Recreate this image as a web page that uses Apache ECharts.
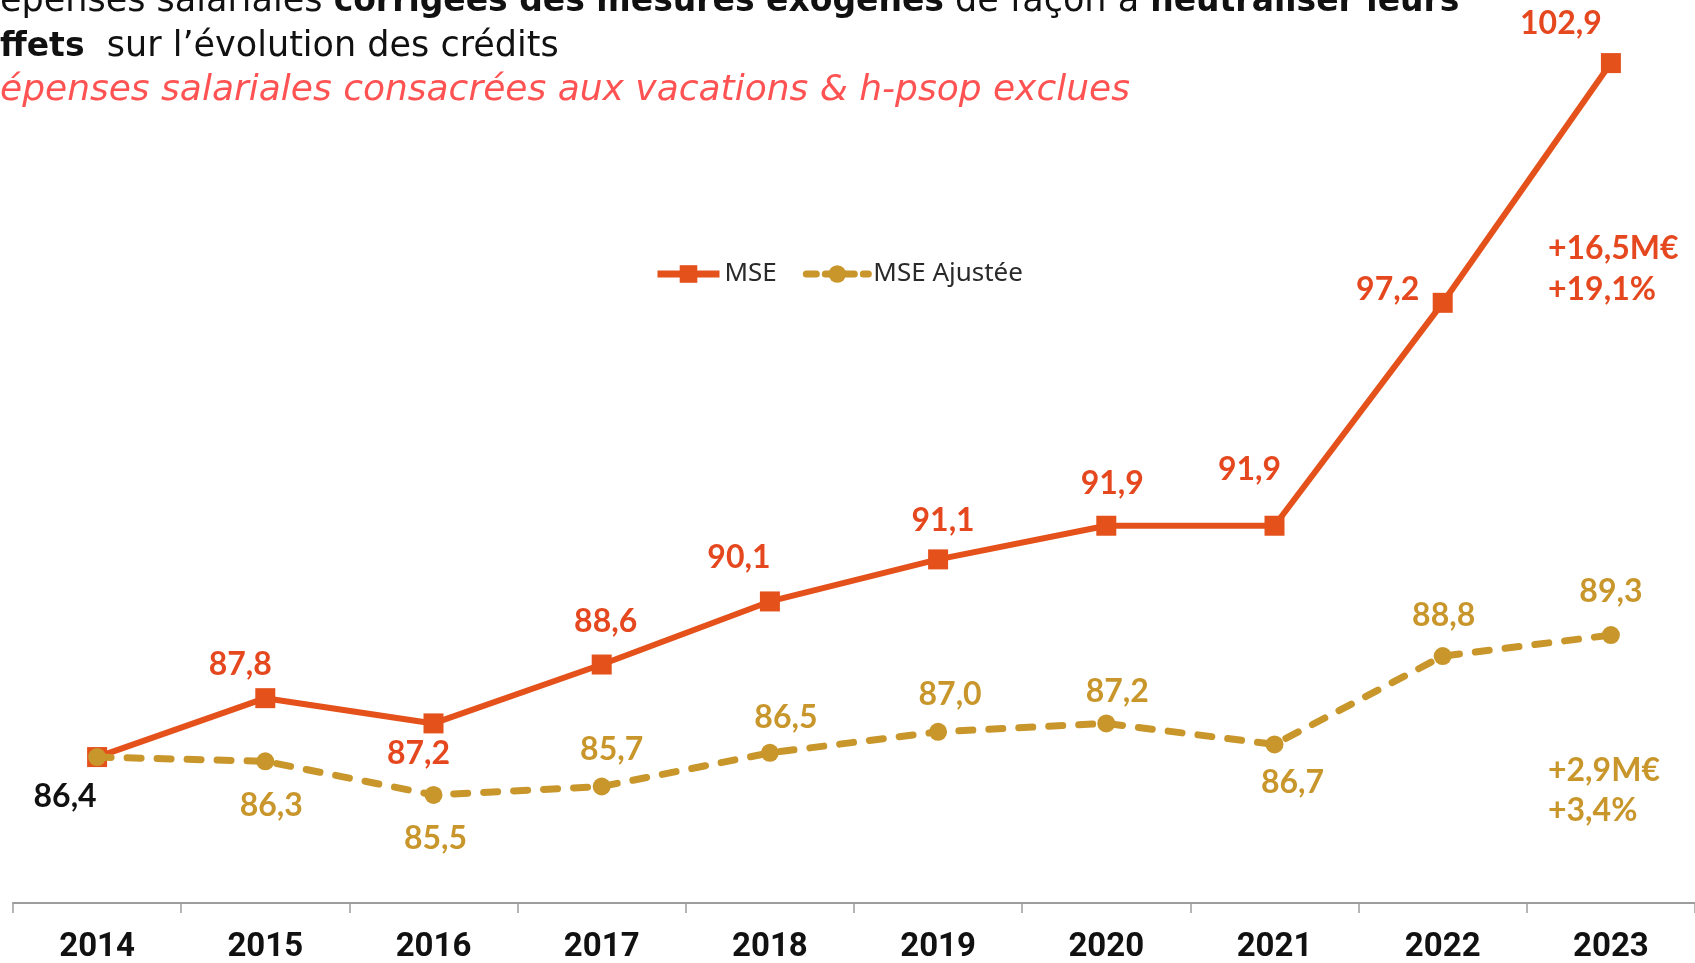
<!DOCTYPE html>
<html>
<head>
<meta charset="utf-8">
<script src="https://cdn.jsdelivr.net/npm/echarts@6/dist/echarts.min.js"></script>
<style>
  html, body { margin: 0; padding: 0; background: #ffffff; }
  #chart { width: 1695px; height: 963px; }
</style>
</head>
<body>
<div id="chart"></div>
<script>
// ---- Data ----
const years = ['2014', '2015', '2016', '2017', '2018', '2019', '2020', '2021', '2022', '2023'];
const mse = [86.4, 87.8, 87.2, 88.6, 90.1, 91.1, 91.9, 91.9, 97.2, 102.9];
const mseAjustee = [86.4, 86.3, 85.5, 85.7, 86.5, 87.0, 87.2, 86.7, 88.8, 89.3];
const seriesNames = ['MSE', 'MSE Ajustée'];
const mseDelta = ['+16,5M€', '+19,1%'];
const adjDelta = ['+2,9M€', '+3,4%'];
const titleLine1 = ['épenses salariales ', 'corrigées des mesures exogènes', ' de façon à ', 'neutraliser leurs'];
const titleLine2 = ['ffets', '  sur l’évolution des crédits'];
const titleLine3 = 'épenses salariales consacrées aux vacations & h-psop exclues';

// ---- Styles ----
const ORANGE = '#E4511B';
const ORANGE_TXT = '#E5481E';
const GOLD = '#C8962B';
const LABEL_FONT = 'Lato';
const mseLabelOffsets = [[-32, 40], [-25, -33], [-15, 30], [4, -43], [-31, -44], [5, -39], [6, -42], [-25, -56], [-55, -13], [-50, -39]];
const adjLabelOffsets = [null, [6, 44], [2, 44], [10, -37], [16, -35], [12, -37], [11, -32], [18, 38], [1, -40], [0, -43]];

const fmt = v => v.toFixed(1).replace('.', ',');

const mseData = mse.map((v, i) => ({
  value: v,
  label: {
    show: true,
    position: 'inside',
    offset: mseLabelOffsets[i],
    color: i === 0 ? '#111111' : ORANGE_TXT
  }
}));
const adjData = mseAjustee.map((v, i) => ({
  value: v,
  label: adjLabelOffsets[i]
    ? { show: true, position: 'inside', offset: adjLabelOffsets[i], color: GOLD }
    : { show: false }
}));

const chart = echarts.init(document.getElementById('chart'), null, { renderer: 'canvas' });

const titleRich = {
  n: { fontFamily: 'DejaVu Sans', fontSize: 35, fill: '#111111', fontWeight: 'normal' },
  b: { fontFamily: 'DejaVu Sans', fontSize: 33, fill: '#111111', fontWeight: 'bold' }
};

const option = {
  backgroundColor: '#ffffff',
  animation: false,
  grid: { left: 13, right: 0, top: 0, bottom: 60, containLabel: false, outerBoundsMode: 'none' },
  legend: {
    data: [
      { name: seriesNames[0] },
      { name: seriesNames[1], lineStyle: { type: [10, 9], cap: 'round' } }
    ],
    left: 649,
    top: 256,
    itemWidth: 62,
    itemHeight: 22,
    itemGap: 26,
    lineStyle: { width: 7 },
    textStyle: { fontFamily: 'Noto Sans', fontSize: 26, color: '#2a2a2a', padding: [0, 0, 0, 0] }
  },
  xAxis: {
    type: 'category',
    data: years,
    boundaryGap: true,
    axisLine: { show: true, lineStyle: { color: '#9d9d9d', width: 2 } },
    axisTick: { show: true, length: 10, lineStyle: { color: '#9d9d9d', width: 1.5 } },
    axisLabel: { fontFamily: 'Roboto', fontWeight: 'bold', fontSize: 33, color: '#111111', margin: 28 },
    splitLine: { show: false }
  },
  yAxis: {
    type: 'value',
    min: 82.93,
    max: 104.4,
    show: false,
    splitLine: { show: false }
  },
  series: [
    {
      name: seriesNames[0],
      type: 'line',
      data: mseData,
      symbol: 'rect',
      symbolSize: 20,
      itemStyle: { color: ORANGE },
      lineStyle: { color: ORANGE, width: 6 },
      label: {
        fontFamily: LABEL_FONT, fontWeight: 'bold', fontSize: 32,
        formatter: p => fmt(p.value)
      },
      z: 2
    },
    {
      name: seriesNames[1],
      type: 'line',
      data: adjData,
      symbol: 'circle',
      symbolSize: 18,
      itemStyle: { color: GOLD },
      lineStyle: { color: GOLD, width: 7, type: [14, 16], cap: 'round' },
      label: {
        fontFamily: LABEL_FONT, fontWeight: 'bold', fontSize: 32,
        formatter: p => fmt(p.value)
      },
      z: 3
    }
  ],
  graphic: [
    {
      type: 'text', x: 0, y: 2,
      style: {
        text: '{n|' + titleLine1[0] + '}{b|' + titleLine1[1] + '}{n|' + titleLine1[2] + '}{b|' + titleLine1[3] + '}',
        verticalAlign: 'middle',
        rich: titleRich
      }
    },
    {
      type: 'text', x: 0, y: 47,
      style: {
        text: '{b|' + titleLine2[0] + '}{n|' + titleLine2[1] + '}',
        verticalAlign: 'middle',
        rich: titleRich
      }
    },
    {
      type: 'text', x: 0, y: 91,
      style: {
        text: titleLine3,
        verticalAlign: 'middle',
        fontFamily: 'DejaVu Sans', fontSize: 36, fontStyle: 'italic', fill: '#FF5252'
      }
    },
    {
      type: 'text', x: 1548, y: 249,
      style: { text: mseDelta[0], verticalAlign: 'middle', fontFamily: LABEL_FONT, fontWeight: 'bold', fontSize: 32, fill: ORANGE_TXT }
    },
    {
      type: 'text', x: 1548, y: 290,
      style: { text: mseDelta[1], verticalAlign: 'middle', fontFamily: LABEL_FONT, fontWeight: 'bold', fontSize: 32, fill: ORANGE_TXT }
    },
    {
      type: 'text', x: 1548, y: 771,
      style: { text: adjDelta[0], verticalAlign: 'middle', fontFamily: LABEL_FONT, fontWeight: 'bold', fontSize: 32, fill: GOLD }
    },
    {
      type: 'text', x: 1548, y: 811,
      style: { text: adjDelta[1], verticalAlign: 'middle', fontFamily: LABEL_FONT, fontWeight: 'bold', fontSize: 32, fill: GOLD }
    }
  ]
};

chart.setOption(option);
</script>
</body>
</html>
